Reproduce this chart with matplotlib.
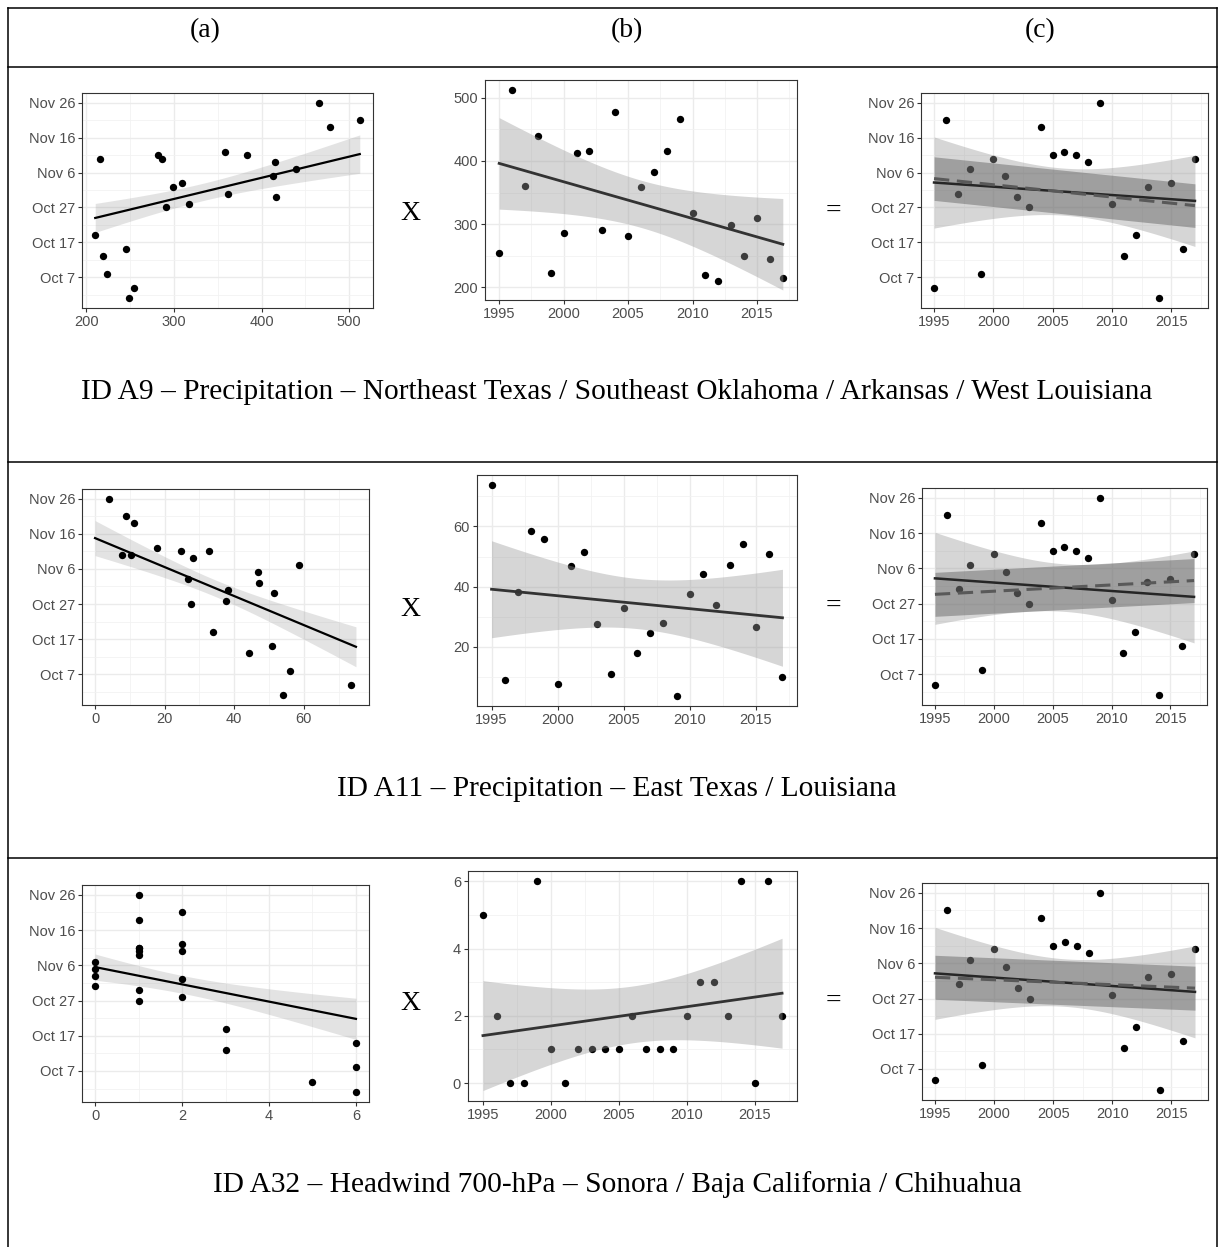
import datetime as dt
import numpy as np
import matplotlib
matplotlib.use('Agg')
import matplotlib.pyplot as plt
from matplotlib.lines import Line2D
from matplotlib.ticker import MultipleLocator, FuncFormatter

# ---- data ----
years = list(range(1995, 2018))
onset = ['Oct 4', 'Nov 21', 'Oct 31', 'Nov 7', 'Oct 8', 'Nov 10', 'Nov 5', 'Oct 30',
         'Oct 27', 'Nov 19', 'Nov 11', 'Nov 12', 'Nov 11', 'Nov 9', 'Nov 26', 'Oct 28',
         'Oct 13', 'Oct 19', 'Nov 2', 'Oct 1', 'Nov 3', 'Oct 15', 'Nov 10']

precip_a9 = [254, 512, 361, 439, 223, 286, 413, 416, 291, 478, 282, 358,
             383, 415, 466, 317, 219, 210, 299, 249, 309, 245, 215]
precip_a11 = [73.6, 8.9, 38.1, 58.5, 56.0, 7.8, 46.9, 51.4, 27.6, 11.1, 32.8, 17.9,
              24.7, 28.1, 3.9, 37.5, 44.2, 34.0, 47.1, 54.1, 26.6, 50.9, 10.2]
headwind_a32 = [5, 2, 0, 0, 6, 1, 0, 1, 1, 1, 1, 2, 1, 1, 1, 2, 3, 3, 2, 6, 0, 6, 2]

predictors = [precip_a9, precip_a11, headwind_a32]

# fitted lines of panel (a) as drawn: x span and onset (days after Sep 30) at its ends
a_fit_x = [(210, 512), (0, 75), (0, 6)]
a_fit_y = [(24.0, 42.3), (45.8, 14.8), (36.5, 21.8)]
a_band_right = [5.5, 5.7, 5.85]   # half width of the band at the right end, days

a_ticks = [(100, 50), (20, 10), (2, 1)]
b_ticks = [(100, 50), (20, 10), (2, 1)]
headers = ['(a)', '(b)', '(c)']
captions = ['ID A9 \u2013 Precipitation \u2013 Northeast Texas / Southeast Oklahoma / Arkansas / West Louisiana',
            'ID A11 \u2013 Precipitation \u2013 East Texas / Louisiana',
            'ID A32 \u2013 Headwind 700-hPa \u2013 Sonora / Baja California / Chihuahua']

BASE = dt.datetime(2001, 9, 30)
days = np.array([(dt.datetime.strptime(s + ' 2001', '%b %d %Y') - BASE).days for s in onset], float)
yrs = np.array(years, float)


def date_label(v, pos):
    d = BASE + dt.timedelta(days=int(round(v)))
    return d.strftime('%b ') + str(d.day)


def ci_shape(x, xs):
    x = np.asarray(x, float)
    return np.sqrt(1 / len(x) + (xs - x.mean()) ** 2 / np.sum((x - x.mean()) ** 2))


def lm(x, y, xs):
    x = np.asarray(x, float)
    n = len(x)
    b1, b0 = np.polyfit(x, y, 1)
    fit = b0 + b1 * xs
    s = np.sqrt(np.sum((y - (b0 + b1 * x)) ** 2) / (n - 2))
    se = s * ci_shape(x, xs)
    t = 2.080  # t(0.975, df=21)
    return fit, fit - t * se, fit + t * se


def style(ax, xt, yt, dates=False):
    for sp in ax.spines.values():
        sp.set_color('#333333')
        sp.set_linewidth(0.8)
    ax.xaxis.set_major_locator(MultipleLocator(xt[0]))
    ax.xaxis.set_minor_locator(MultipleLocator(xt[1]))
    if dates:
        ax.yaxis.set_major_locator(MultipleLocator(10, offset=7))
        ax.yaxis.set_minor_locator(MultipleLocator(10, offset=2))
        ax.yaxis.set_major_formatter(FuncFormatter(date_label))
    else:
        ax.yaxis.set_major_locator(MultipleLocator(yt[0]))
        ax.yaxis.set_minor_locator(MultipleLocator(yt[1]))
    ax.grid(which='major', color='#ebebeb', lw=1.0)
    ax.grid(which='minor', color='#f2f2f2', lw=0.6)
    ax.set_axisbelow(True)
    ax.tick_params(which='major', length=3, width=0.8, color='#333333',
                   labelsize=10.5, labelcolor='#4d4d4d', pad=2)
    ax.tick_params(which='minor', length=0)


W, H = 1218, 1247
fig = plt.figure(figsize=(W / 100, H / 100), dpi=100)
plt.rcParams['font.family'] = ['Liberation Sans', 'DejaVu Sans']
serif = ['Liberation Serif', 'DejaVu Serif']


def box(l, t, r, b):
    return [l / W, 1 - b / H, (r - l) / W, (b - t) / H]


def fx(x):
    return x / W


def fy(y):
    return 1 - y / H


# table lines
for y in [8, 67, 462, 858]:
    fig.add_artist(Line2D([fx(8), fx(1217)], [fy(y), fy(y)], color='black', lw=1.1))
for x in [8, 1216.5]:
    fig.add_artist(Line2D([fx(x), fx(x)], [fy(8), fy(1247)], color='black', lw=1.1))

for h, x in zip(headers, [205, 627, 1040]):
    fig.text(fx(x), fy(31), h, family=serif, fontsize=20, ha='center', va='center')

a_boxes = [(82, 93, 373, 308), (82, 489, 369, 705), (82, 885, 369, 1102)]
b_boxes = [(485, 80, 797, 300), (477, 475, 797, 706), (468, 871, 797, 1101)]
c_boxes = [(921, 93, 1208, 308), (922, 488, 1207, 705), (922, 883, 1208, 1100)]
row_mid = [214, 609, 1004]
cap_y = [392, 789, 1185]

ts = np.linspace(1995, 2017, 100)
half_c = 1.96 * np.std(days, ddof=1) / np.sqrt(len(days))

for i, xvals in enumerate(predictors):
    xv = np.array(xvals, float)

    # (a) onset vs predictor
    ax = fig.add_axes(box(*a_boxes[i]))
    (x0, x1), (y0, y1) = a_fit_x[i], a_fit_y[i]
    a1 = (y1 - y0) / (x1 - x0)
    a0 = y0 - a1 * x0
    xs = np.linspace(x0, x1, 100)
    fit = a0 + a1 * xs
    k = a_band_right[i] / ci_shape(xv, x1)
    half = k * ci_shape(xv, xs)
    ax.fill_between(xs, fit - half, fit + half, color='#999999', alpha=0.27, lw=0, zorder=1)
    ax.scatter(xv, days, s=28, color='black', lw=0, zorder=2)
    ax.plot(xs, fit, color='black', lw=1.6, zorder=3)
    style(ax, a_ticks[i], None, dates=True)

    # (b) predictor vs year
    ax = fig.add_axes(box(*b_boxes[i]))
    fitb, lowb, uppb = lm(yrs, xv, ts)
    ax.scatter(yrs, xv, s=28, color='black', lw=0, zorder=1)
    ax.fill_between(ts, lowb, uppb, color='#999999', alpha=0.4, lw=0, zorder=2)
    ax.plot(ts, fitb, color='#333333', lw=2.0, zorder=3)
    style(ax, (5, 2.5), b_ticks[i])

    # (c) onset vs year: direct fit and composite (a) x (b)
    ax = fig.add_axes(box(*c_boxes[i]))
    fitc, lowc, uppc = lm(yrs, days, ts)
    comp = a0 + a1 * fitb
    ax.scatter(yrs, days, s=28, color='black', lw=0, zorder=1)
    ax.fill_between(ts, lowc, uppc, color='#999999', alpha=0.4, lw=0, zorder=2)
    ax.fill_between(ts, comp - half_c, comp + half_c, color='#4d4d4d', alpha=0.4, lw=0, zorder=3)
    ax.plot(ts, fitc, color='#262626', lw=1.8, zorder=4)
    ax.plot(ts, comp, color='#595959', lw=2.2, dashes=(5, 2.5), zorder=5)
    style(ax, (5, 2.5), None, dates=True)

    fig.text(fx(410), fy(row_mid[i]), 'X', family=serif, fontsize=20, ha='center', va='center')
    fig.text(fx(833), fy(row_mid[i] - 3), '=', family=serif, fontsize=20, ha='center', va='center')
    fig.text(fx(617), fy(cap_y[i]), captions[i], family=serif, fontsize=21.2, ha='center', va='center')

fig.savefig('out.png', dpi=100)
